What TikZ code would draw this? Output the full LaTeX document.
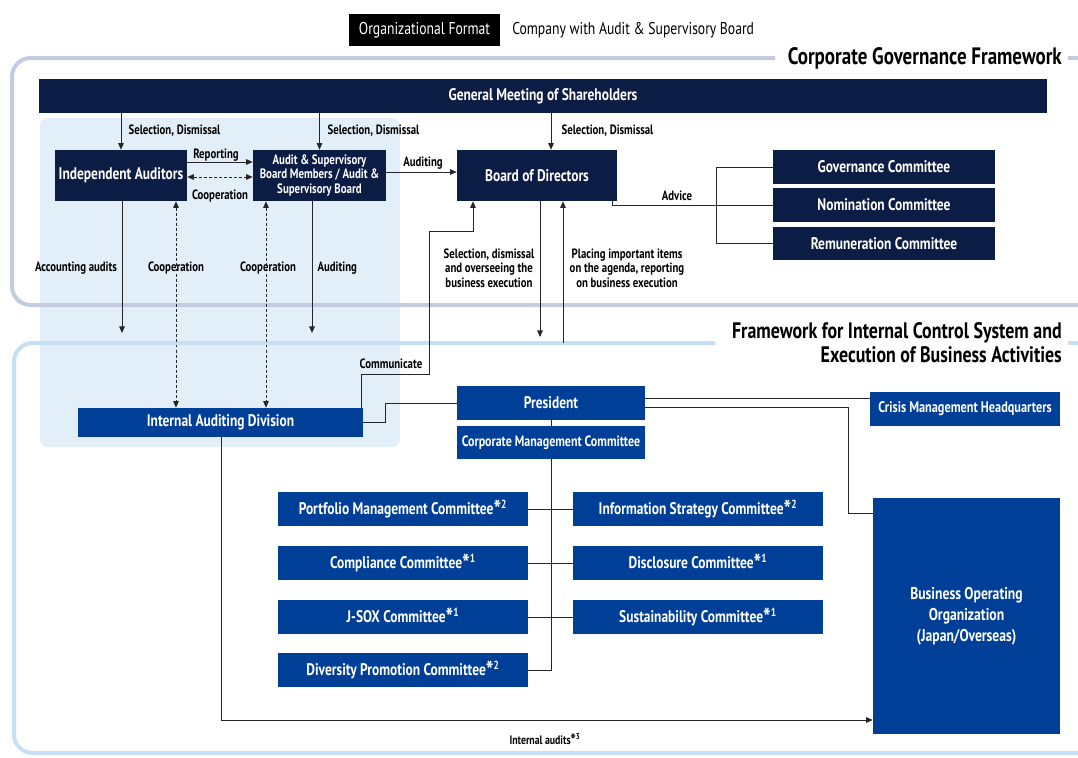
\documentclass[tikz,border=0pt]{standalone}
\usepackage{fontspec}
\setmainfont{PT Sans}[FakeStretch=0.8]
\usetikzlibrary{arrows.meta}
\definecolor{navy}{HTML}{0B1C45}
\definecolor{midblue}{HTML}{003F98}
\definecolor{auditzone}{HTML}{E2EFF9}
\definecolor{frameA}{HTML}{C4CADF}
\definecolor{frameB}{HTML}{C6DFF4}
\definecolor{wire}{HTML}{262626}
\newcommand{\note}[1]{\raisebox{-0.45ex}{\bfseries\fontsize{19}{19}\selectfont*}\textsuperscript{#1}}
\tikzset{
  sz/.style 2 args={minimum width=#1*0.75pt, minimum height=#2*0.75pt},
  darkbox/.style={fill=navy, text=white, inner sep=1pt, font=\bfseries\fontsize{12.6}{14}\selectfont, align=center},
  bluebox/.style={fill=midblue, text=white, inner sep=1pt, font=\bfseries\fontsize{12.6}{14}\selectfont, align=center},
  lbl/.style={inner sep=1pt, font=\bfseries\fontsize{10.1}{10.8}\selectfont, align=center, text=black},
  conn/.style={draw=wire, line width=0.7pt},
  arr/.style={conn, -{Triangle[length=5pt,width=4.2pt]}},
  darr/.style={conn, dashed, dash pattern=on 2.2pt off 1.6pt, {Triangle[length=5pt,width=4.2pt]}-{Triangle[length=5pt,width=4.2pt]}},
  frameline/.style={line width=3pt, rounded corners=14pt},
  ttl/.style={inner sep=0pt, font=\bfseries\fontsize{16.8}{18}\selectfont, align=right}
}
\begin{document}
\begin{tikzpicture}[x=0.75pt,y=-0.75pt]
\useasboundingbox (0,0) rectangle (1078,757);

% shaded audit zone
\fill[auditzone, rounded corners=6pt] (40,118) rectangle (400,447);

% governance frame
\draw[frameA, frameline] (775,58) -- (12,58) -- (12,305) -- (1078,305);
\draw[frameA, line width=3pt] (1068,58) -- (1078,58);
\node[ttl, anchor=east, font=\bfseries\fontsize{17.8}{19}\selectfont] (cgf) at (1062,58) {Corporate Governance Framework};

% internal control frame
\draw[frameB, frameline] (715,343) -- (14,343) -- (14,753) -- (1078,753);
\draw[frameB, line width=3pt] (1068,343) -- (1078,343);
\node[ttl, anchor=east] (icf) at (1062,342.5) {Framework for Internal Control System and\\Execution of Business Activities};

% header
\node[fill=black, text=white, sz={151}{32}, font=\fontsize{12.8}{13}\selectfont] (fmt) at (424.5,30) {Organizational Format};
\node[anchor=west, inner sep=0pt, font=\fontsize{12.8}{13}\selectfont] (fmtv) at (512,30) {Company with Audit \& Supervisory Board};

% governance bodies
\node[darkbox, sz={1008}{34}] (gm) at (543,96) {General Meeting of Shareholders};
\node[darkbox, sz={132}{51}] (ia) at (121,175.5) {Independent Auditors};
\node[darkbox, sz={133}{51}, font=\bfseries\fontsize{10.2}{11}\selectfont] (asb) at (319.5,175.5) {Audit \& Supervisory\\Board Members / Audit \&\\Supervisory Board};
\node[darkbox, sz={160}{51}] (bod) at (537,175.5) {Board of Directors};
\node[darkbox, sz={222}{34}] (gov) at (884,167) {Governance Committee};
\node[darkbox, sz={222}{34}] (nom) at (884,205) {Nomination Committee};
\node[darkbox, sz={222}{33}] (rem) at (884,243.5) {Remuneration Committee};

% execution bodies
\node[bluebox, sz={285}{29}] (iad) at (220.5,422.5) {Internal Auditing Division};
\node[bluebox, sz={188}{34}] (pres) at (551,403) {President};
\node[bluebox, sz={188}{33}, font=\bfseries\fontsize{11.2}{12}\selectfont] (cmc) at (551,442.5) {Corporate Management Committee};
\node[bluebox, sz={190}{34}, font=\bfseries\fontsize{11.5}{12}\selectfont] (crisis) at (965,409) {Crisis Management Headquarters};
\node[bluebox, sz={187}{236}, font=\bfseries\fontsize{12.8}{15.6}\selectfont] (biz) at (966.5,616) {Business Operating\\Organization\\(Japan/Overseas)};

\node[bluebox, sz={250}{34}] (pmc) at (403,509) {Portfolio Management Committee\note{2}};
\node[bluebox, sz={250}{34}] (cc)  at (403,563) {Compliance Committee\note{1}};
\node[bluebox, sz={250}{34}] (jsox) at (403,617) {J-SOX Committee\note{1}};
\node[bluebox, sz={250}{34}] (dpc) at (403,670) {Diversity Promotion Committee\note{2}};
\node[bluebox, sz={250}{34}] (isc) at (698,509) {Information Strategy Committee\note{2}};
\node[bluebox, sz={250}{34}] (dc)  at (698,563) {Disclosure Committee\note{1}};
\node[bluebox, sz={250}{34}] (sc)  at (698,617) {Sustainability Committee\note{1}};

% free ends of connectors
\coordinate (accEnd) at (122,333);
\coordinate (audEnd) at (312,333);
\coordinate (downEnd) at (540,337);
\coordinate (upStart) at (563,343);
\coordinate (trunkEnd) at (551,670);

% shareholders' selection and dismissal
\draw[arr] (gm.south -| ia) -- (ia.north);
\node[lbl, anchor=west] (l1) at (127,131) {Selection, Dismissal};
\draw[arr] (gm.south -| asb) -- (asb.north);
\node[lbl, anchor=west] (l2) at (326,131) {Selection, Dismissal};
\draw[arr] (gm.south -| 551,0) -- (bod.north -| 551,0);
\node[lbl, anchor=west] (l3) at (560,131) {Selection, Dismissal};

% auditors and board members
\draw[arr] (ia.east |- 0,162) -- (asb.west |- 0,162);
\node[lbl] (l4) at (216,155) {Reporting};
\draw[darr] (ia.east |- 0,177) -- (asb.west |- 0,177);
\node[lbl] (l5) at (220,196) {Cooperation};
\draw[arr] (asb.east |- 0,172) -- (bod.west |- 0,172);
\node[lbl] (l6) at (423,163) {Auditing};

% advisory committees
\draw[conn] (bod.south -| 612,0) |- (nom.west);
\draw[conn] (gov.west) -| (716,205);
\draw[conn] (rem.west) -| (716,205);
\node[lbl] (l7) at (677,196) {Advice};

% audits reaching into the execution side
\draw[arr] (ia.south -| accEnd) -- (accEnd);
\node[lbl] (l8) at (76,268) {Accounting audits};
\draw[darr] (ia.south -| 176,0) -- (iad.north -| 176,0);
\node[lbl] (l9) at (176,268) {Cooperation};
\draw[darr] (asb.south -| 266,0) -- (iad.north -| 266,0);
\node[lbl] (l10) at (268,268) {Cooperation};
\draw[arr] (asb.south -| audEnd) -- (audEnd);
\node[lbl, anchor=west] (l11) at (316,268) {Auditing};

% board and execution
\draw[arr] (iad.north -| 361,0) -- (361,374) -- (429,374) -- (429,231) -- (473,231) -- (bod.south -| 473,0);
\node[lbl] (l12) at (391,364) {Communicate};
\draw[arr] (bod.south -| downEnd) -- (downEnd);
\draw[arr] (upStart) -- (bod.south -| upStart);
\node[lbl] (l13) at (489,268) {Selection, dismissal\\and overseeing the\\business execution};
\node[lbl] (l14) at (627,268) {Placing important items\\on the agenda, reporting\\on business execution};

% execution structure
\draw[conn] (iad.east) -- (385,422.5) |- (pres.west);
\draw[conn] (pres.east |- 0,398) -- (crisis.west |- 0,398);
\draw[conn] (pres.east |- 0,407) -| (848,513) -- (biz.west |- 0,513);
\draw[conn] (pres.south) -- (cmc.north);
\draw[conn] (cmc.south) -- (trunkEnd) -- (dpc.east);
\draw[conn] (pmc.east) -- (isc.west);
\draw[conn] (cc.east) -- (dc.west);
\draw[conn] (jsox.east) -- (sc.west);

% internal audits
\draw[arr] (iad.south -| 221,0) |- (biz.west |- 0,720);
\node[lbl, font=\bfseries\fontsize{9.2}{9.5}\selectfont] (l15) at (545,740) {Internal audits\raisebox{-0.4ex}{\fontsize{13}{13}\selectfont*}\textsuperscript{3}};
\end{tikzpicture}
\end{document}
